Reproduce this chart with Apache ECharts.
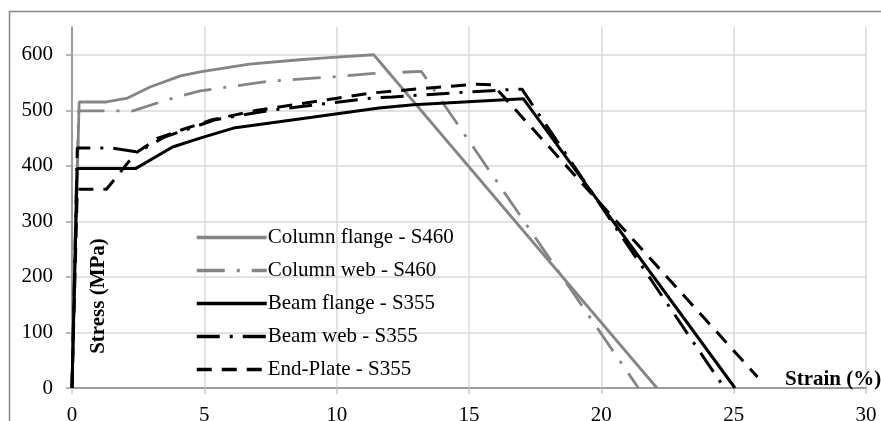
<!DOCTYPE html>
<html>
<head>
<meta charset="utf-8">
<script src="https://cdn.jsdelivr.net/npm/echarts@6/dist/echarts.min.js"></script>
<style>
  html, body { margin: 0; padding: 0; background: #ffffff; }
  #chart { width: 881px; height: 421px; }
</style>
</head>
<body>
<div id="chart"></div>
<script>
// Axis ticks
const strainTicks = [0, 5, 10, 15, 20, 25, 30];
const stressTicks = [0, 100, 200, 300, 400, 500, 600];

// Series names
const seriesNames = [
  'Column flange - S460',
  'Column web - S460',
  'Beam flange - S355',
  'Beam web - S355',
  'End-Plate - S355'
];

// Stress-strain curves: strain (%) and stress (MPa)
const columnFlangeStrain = [0, 0.27, 1.3, 2.1, 2.95, 4.1, 4.84, 6.7, 8.6, 9.7, 11.4, 22.1];
const columnFlangeStress = [0, 515, 515, 522, 542, 562, 569, 583, 591, 595, 600, 0];

const columnWebStrain = [0, 0.25, 2.3, 3.6, 4.84, 7.4, 9.75, 11.3, 13.2, 21.4];
const columnWebStress = [0, 499, 499, 519, 535, 552, 560, 566, 570, 0];

const beamFlangeStrain = [0, 0.19, 2.4, 3.8, 4.84, 6.1, 7.9, 11.6, 12.9, 17.05, 25.05];
const beamFlangeStress = [0, 395, 395, 434, 450, 468, 480, 504, 510, 521, 0];

const beamWebStrain = [0, 0.2, 1.5, 2.5, 3.5, 4.5, 5.4, 7.5, 9.9, 11.3, 12.1, 14.3, 16.4, 17.0, 24.65];
const beamWebStress = [0, 432, 432, 425, 452, 468, 483, 500, 514, 522, 524, 531, 537, 538, 0];

const endPlateStrain = [0, 0.2, 1.3, 1.75, 2.4, 3.25, 4.15, 5.3, 7.0, 9.9, 11.3, 13.2, 15.3, 15.9, 25.9];
const endPlateStress = [0, 358, 358, 384, 423, 450, 465, 483, 500, 521, 531, 539, 547, 546, 20];

const pairs = (xs, ys) => xs.map((x, i) => [x, ys[i]]);

const FONT = "'Liberation Serif', 'Times New Roman', serif";
const GREY = '#858585';
const BLACK = '#000000';

// Line look for each curve, shared by the plot and its legend key
const styles = [
  { color: GREY, width: 2.8, type: 'solid' },
  { color: GREY, width: 2.8, type: [28, 12, 3, 12] },
  { color: BLACK, width: 3, type: 'solid' },
  { color: BLACK, width: 3, type: [23, 10, 3, 10] },
  { color: BLACK, width: 3, type: [15, 10] }
];
const curves = [
  [columnFlangeStrain, columnFlangeStress],
  [columnWebStrain, columnWebStress],
  [beamFlangeStrain, beamFlangeStress],
  [beamWebStrain, beamWebStress],
  [endPlateStrain, endPlateStress]
];

const chart = echarts.init(document.getElementById('chart'), null, { renderer: 'canvas' });

chart.setOption({
  backgroundColor: '#ffffff',
  animation: false,
  grid: { left: 72, right: 15, top: 27, bottom: 33, containLabel: false, outerBoundsMode: 'none' },
  xAxis: {
    type: 'value',
    min: 0,
    max: 30,
    interval: 5,
    axisLine: { show: true, onZero: false, lineStyle: { color: '#868686', width: 1.5 } },
    axisTick: { show: true, length: 6, lineStyle: { color: '#c8c8c8', width: 1.5 } },
    axisLabel: {
      margin: 17,
      color: '#000',
      fontFamily: FONT,
      fontSize: 21,
      customValues: strainTicks
    },
    splitLine: { show: true, lineStyle: { color: '#d9d9d9', width: 1.5 } }
  },
  yAxis: {
    type: 'value',
    min: 0,
    max: 650,
    interval: 100,
    axisLine: { show: true, onZero: false, lineStyle: { color: '#868686', width: 1.5 } },
    axisTick: { show: true, length: 6, lineStyle: { color: '#a0a0a0', width: 1.5 }, customValues: stressTicks },
    axisLabel: {
      margin: 19,
      color: '#000',
      fontFamily: FONT,
      fontSize: 21,
      customValues: stressTicks
    },
    splitLine: { show: true, lineStyle: { color: '#d9d9d9', width: 1.5 } }
  },
  legend: {
    show: true,
    orient: 'vertical',
    left: 190,
    top: 222,
    itemWidth: 70,
    itemHeight: 14,
    itemGap: 12,
    selectedMode: false,
    itemStyle: { opacity: 0 },
    lineStyle: { width: 3.5, type: 'inherit', color: 'inherit' },
    textStyle: { color: '#000', fontFamily: FONT, fontSize: 21, padding: [0, 0, 0, -4] },
    data: seriesNames.map((name, i) => ({
      name: name,
      itemStyle: { opacity: 0 },
      lineStyle: { color: styles[i].color, width: 3.5, type: styles[i].type, opacity: 1 }
    }))
  },
  graphic: [
    {
      type: 'rect',
      silent: true,
      shape: { x: 9.5, y: 11.5, width: 1000, height: 1000 },
      style: { fill: null, stroke: '#868686', lineWidth: 1.5 },
      z: 100
    },
    {
      type: 'text',
      silent: true,
      x: 99,
      y: 296,
      rotation: Math.PI / 2,
      style: {
        text: 'Stress (MPa)',
        fill: '#000',
        font: "bold 21px 'Liberation Serif', 'Times New Roman', serif",
        align: 'center',
        verticalAlign: 'middle'
      },
      z: 100
    },
    {
      type: 'text',
      silent: true,
      x: 785,
      y: 380,
      style: {
        text: 'Strain (%)',
        fill: '#000',
        font: "bold 21px 'Liberation Serif', 'Times New Roman', serif",
        align: 'left',
        verticalAlign: 'middle'
      },
      z: 100
    }
  ],
  series: seriesNames.map((name, i) => ({
    name: name,
    type: 'line',
    data: pairs(curves[i][0], curves[i][1]),
    symbol: 'none',
    showSymbol: false,
    silent: true,
    animation: false,
    lineStyle: { color: styles[i].color, width: styles[i].width, type: styles[i].type, cap: 'butt' },
    itemStyle: { color: styles[i].color }
  }))
});
</script>
</body>
</html>
